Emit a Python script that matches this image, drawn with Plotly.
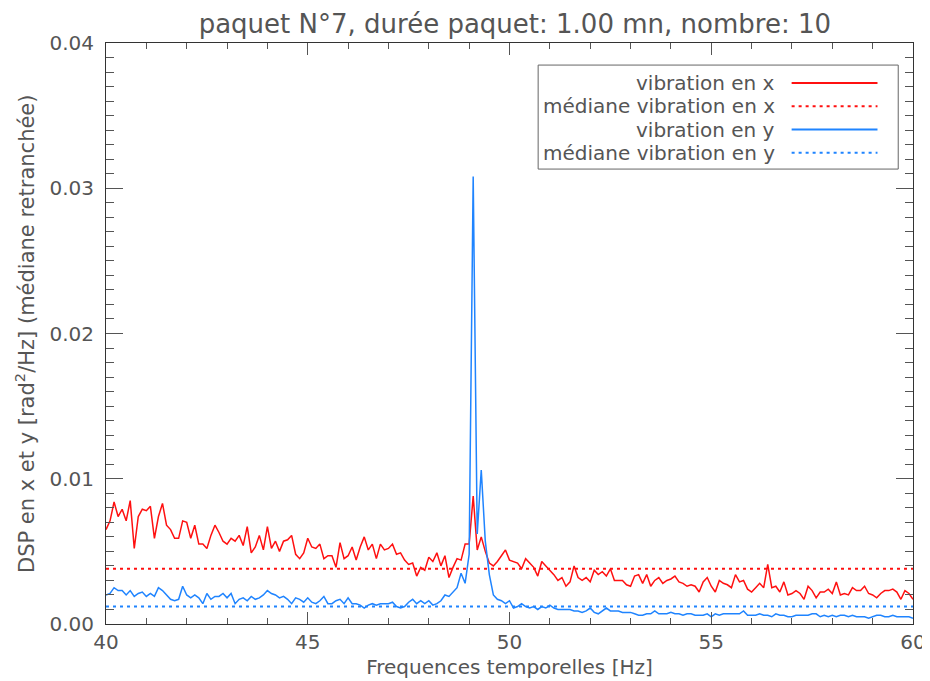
import plotly.graph_objects as go
import numpy as np

# frequency grid (Hz), 0.1 Hz step
freq = np.round(np.arange(40.0, 60.0001, 0.1), 1)

# DSP vibration en x (red)
dsp_x = [
    0.0065, 0.0071, 0.0084, 0.0074, 0.0079, 0.0071, 0.0085, 0.0052, 0.0074, 0.0079,
    0.0078, 0.0081, 0.0059, 0.0074, 0.0083, 0.0068, 0.0065, 0.0059, 0.0059, 0.0071,
    0.0070, 0.0059, 0.0068, 0.0055, 0.0055, 0.0052, 0.0061, 0.0068, 0.0063, 0.0057,
    0.0055, 0.0059, 0.0057, 0.0061, 0.0054, 0.0067, 0.0049, 0.0053, 0.0061, 0.0051,
    0.0067, 0.0052, 0.0057, 0.0050, 0.0057, 0.0058, 0.0061, 0.0048, 0.0045, 0.0049,
    0.0059, 0.0053, 0.0052, 0.0055, 0.0045, 0.0047, 0.0047, 0.0039, 0.0056, 0.0045,
    0.0047, 0.0053, 0.0044, 0.0053, 0.0060, 0.0051, 0.0055, 0.0045, 0.0055, 0.0051,
    0.0052, 0.0055, 0.0048, 0.0049, 0.0044, 0.0041, 0.0042, 0.0033, 0.0039, 0.0037,
    0.0046, 0.0043, 0.0049, 0.0040, 0.0047, 0.0032, 0.0039, 0.0045, 0.0044, 0.0055,
    0.0055, 0.0088, 0.0051, 0.0060, 0.0050, 0.0042, 0.0040, 0.0043, 0.0047, 0.0051,
    0.0044, 0.0043, 0.0042, 0.0038, 0.0045, 0.0042, 0.0039, 0.0033, 0.0043, 0.0040,
    0.0037, 0.0034, 0.0030, 0.0032, 0.0026, 0.0029, 0.0040, 0.0032, 0.0030, 0.0032,
    0.0029, 0.0037, 0.0034, 0.0036, 0.0033, 0.0038, 0.0030, 0.0030, 0.0030, 0.0027,
    0.0026, 0.0033, 0.0034, 0.0028, 0.0034, 0.0026, 0.0030, 0.0032, 0.0028, 0.0030,
    0.0031, 0.0033, 0.0029, 0.0028, 0.0026, 0.0027, 0.0026, 0.0022, 0.0029, 0.0032,
    0.0026, 0.0022, 0.0030, 0.0028, 0.0027, 0.0025, 0.0034, 0.0029, 0.0030, 0.0024,
    0.0022, 0.0025, 0.0028, 0.0025, 0.0041, 0.0025, 0.0026, 0.0022, 0.0029, 0.0020,
    0.0021, 0.0023, 0.0021, 0.0017, 0.0026, 0.0023, 0.0018, 0.0022, 0.0022, 0.0024,
    0.0021, 0.0029, 0.0020, 0.0021, 0.0020, 0.0025, 0.0023, 0.0023, 0.0026, 0.0021,
    0.0020, 0.0018, 0.0021, 0.0023, 0.0023, 0.0024, 0.0022, 0.0017, 0.0023, 0.0021,
    0.0017,
]

# DSP vibration en y (blue)
dsp_y = [
    0.0020, 0.0021, 0.0025, 0.0023, 0.0023, 0.0020, 0.0023, 0.0019, 0.0021, 0.0022,
    0.0019, 0.0021, 0.0019, 0.0025, 0.0023, 0.0020, 0.0017, 0.0016, 0.0017, 0.0026,
    0.0020, 0.0018, 0.0020, 0.0018, 0.0014, 0.0021, 0.0017, 0.0019, 0.0019, 0.0021,
    0.0018, 0.0021, 0.0014, 0.0017, 0.0018, 0.0016, 0.0019, 0.0017, 0.0018, 0.0020,
    0.0023, 0.0021, 0.0020, 0.0018, 0.0019, 0.0017, 0.0014, 0.0018, 0.0017, 0.0015,
    0.0018, 0.0015, 0.0014, 0.0016, 0.0019, 0.0014, 0.0014, 0.0016, 0.0017, 0.0014,
    0.0018, 0.0014, 0.0014, 0.0013, 0.0011, 0.0013, 0.0014, 0.0013, 0.0014, 0.0014,
    0.0014, 0.0015, 0.0012, 0.0011, 0.0012, 0.0015, 0.0017, 0.0014, 0.0016, 0.0014,
    0.0016, 0.0013, 0.0014, 0.0016, 0.0020, 0.0019, 0.0022, 0.0025, 0.0035, 0.0028,
    0.0048, 0.0308, 0.0062, 0.0106, 0.0057, 0.0034, 0.0020, 0.0017, 0.0016, 0.0014,
    0.0016, 0.0011, 0.0012, 0.0014, 0.0012, 0.0011, 0.0012, 0.0010, 0.0012, 0.0011,
    0.0013, 0.0011, 0.0010, 0.0010, 0.0010, 0.0010, 0.0009, 0.0009, 0.0008, 0.0009,
    0.0011, 0.0008, 0.0007, 0.0009, 0.0011, 0.0009, 0.0009, 0.0009, 0.0008, 0.0008,
    0.0008, 0.0007, 0.0006, 0.0006, 0.0007, 0.0007, 0.0009, 0.0007, 0.0007, 0.0007,
    0.0008, 0.0007, 0.0007, 0.0006, 0.0007, 0.0007, 0.0006, 0.0006, 0.0006, 0.0007,
    0.0005, 0.0007, 0.0006, 0.0007, 0.0007, 0.0007, 0.0007, 0.0007, 0.0009, 0.0006,
    0.0006, 0.0006, 0.0007, 0.0006, 0.0006, 0.0005, 0.0007, 0.0006, 0.0006, 0.0005,
    0.0005, 0.0006, 0.0006, 0.0006, 0.0006, 0.0007, 0.0007, 0.0005, 0.0006, 0.0005,
    0.0006, 0.0005, 0.0006, 0.0006, 0.0005, 0.0006, 0.0005, 0.0005, 0.0005, 0.0004,
    0.0005, 0.0006, 0.0006, 0.0005, 0.0005, 0.0006, 0.0005, 0.0005, 0.0005, 0.0005,
    0.0004,
]

median_x = 0.0038
median_y = 0.0012

legend_labels = ["vibration en x", "médiane vibration en x",
                 "vibration en y", "médiane vibration en y"]

RED = "#ff1010"
BLUE = "#1f84ff"
TXT = "#555555"
FONT = "DejaVu Sans"

fig = go.Figure()
fig.add_trace(go.Scatter(x=freq, y=dsp_x, mode="lines", line=dict(color=RED, width=1.5),
                         name=legend_labels[0]))
fig.add_trace(go.Scatter(x=[40, 60], y=[median_x, median_x], mode="lines",
                         line=dict(color=RED, width=2, dash="3px,4px"), name=legend_labels[1]))
fig.add_trace(go.Scatter(x=freq, y=dsp_y, mode="lines", line=dict(color=BLUE, width=1.5),
                         name=legend_labels[2]))
fig.add_trace(go.Scatter(x=[40, 60], y=[median_y, median_y], mode="lines",
                         line=dict(color=BLUE, width=2, dash="3px,4px"), name=legend_labels[3]))

# hand-drawn legend: text right-aligned, line sample to the right (IDL style)
row_y = [0.931, 0.891, 0.851, 0.811]
styles = [(RED, "solid"), (RED, "3px,4px"), (BLUE, "solid"), (BLUE, "3px,4px")]
shapes = [dict(type="rect", xref="paper", yref="paper", x0=0.5355, x1=0.9817, y0=0.783, y1=0.962,
               line=dict(color="#666666", width=1), fillcolor="white", layer="above")]
annotations = []
for lab, yy, (col, dash) in zip(legend_labels, row_y, styles):
    shapes.append(dict(type="line", xref="paper", yref="paper", x0=0.8496, x1=0.956, y0=yy, y1=yy,
                       line=dict(color=col, width=2, dash=dash), layer="above"))
    annotations.append(dict(xref="paper", yref="paper", x=0.831, y=yy, text=lab, showarrow=False,
                            xanchor="right", yanchor="middle",
                            font=dict(family=FONT, size=20, color=TXT)))

# y axis title placed as a rotated annotation, like the IDL layout
annotations.append(dict(xref="paper", yref="paper", x=-0.101, y=0.5, textangle=-90,
                        text="DSP en x et y [rad<sup>2</sup>/Hz] (médiane retranchée)",
                        showarrow=False, xanchor="center", yanchor="middle",
                        font=dict(family=FONT, size=21, color=TXT)))

axis_common = dict(showgrid=False, zeroline=False, showline=True, linecolor="#333333", linewidth=1,
                   mirror="ticks", ticks="inside", tickcolor="#555555",
                   tickfont=dict(family=FONT, size=20, color=TXT))

fig.update_layout(
    width=930, height=681,
    margin=dict(l=98, r=14, t=35, b=65),
    paper_bgcolor="white", plot_bgcolor="white",
    showlegend=False,
    title=dict(text="paquet N°7, durée paquet: 1.00 mn, nombre: 10", x=0.545, xanchor="center",
               y=0.976, yanchor="middle", font=dict(family=FONT, size=26, color=TXT)),
    xaxis=dict(axis_common, range=[40, 60], dtick=5, ticklen=12,
               minor=dict(dtick=1, ticklen=6, ticks="inside", tickcolor="#555555"),
               title=dict(text="Frequences temporelles [Hz]", standoff=6,
                          font=dict(family=FONT, size=20, color=TXT))),
    yaxis=dict(axis_common, range=[0, 0.04], dtick=0.01, tickformat=".2f", ticklen=17,
               ticklabelstandoff=7,
               minor=dict(dtick=0.001, ticklen=8, ticks="inside", tickcolor="#555555")),
    shapes=shapes,
    annotations=annotations,
)

fig.write_html("out.html")
